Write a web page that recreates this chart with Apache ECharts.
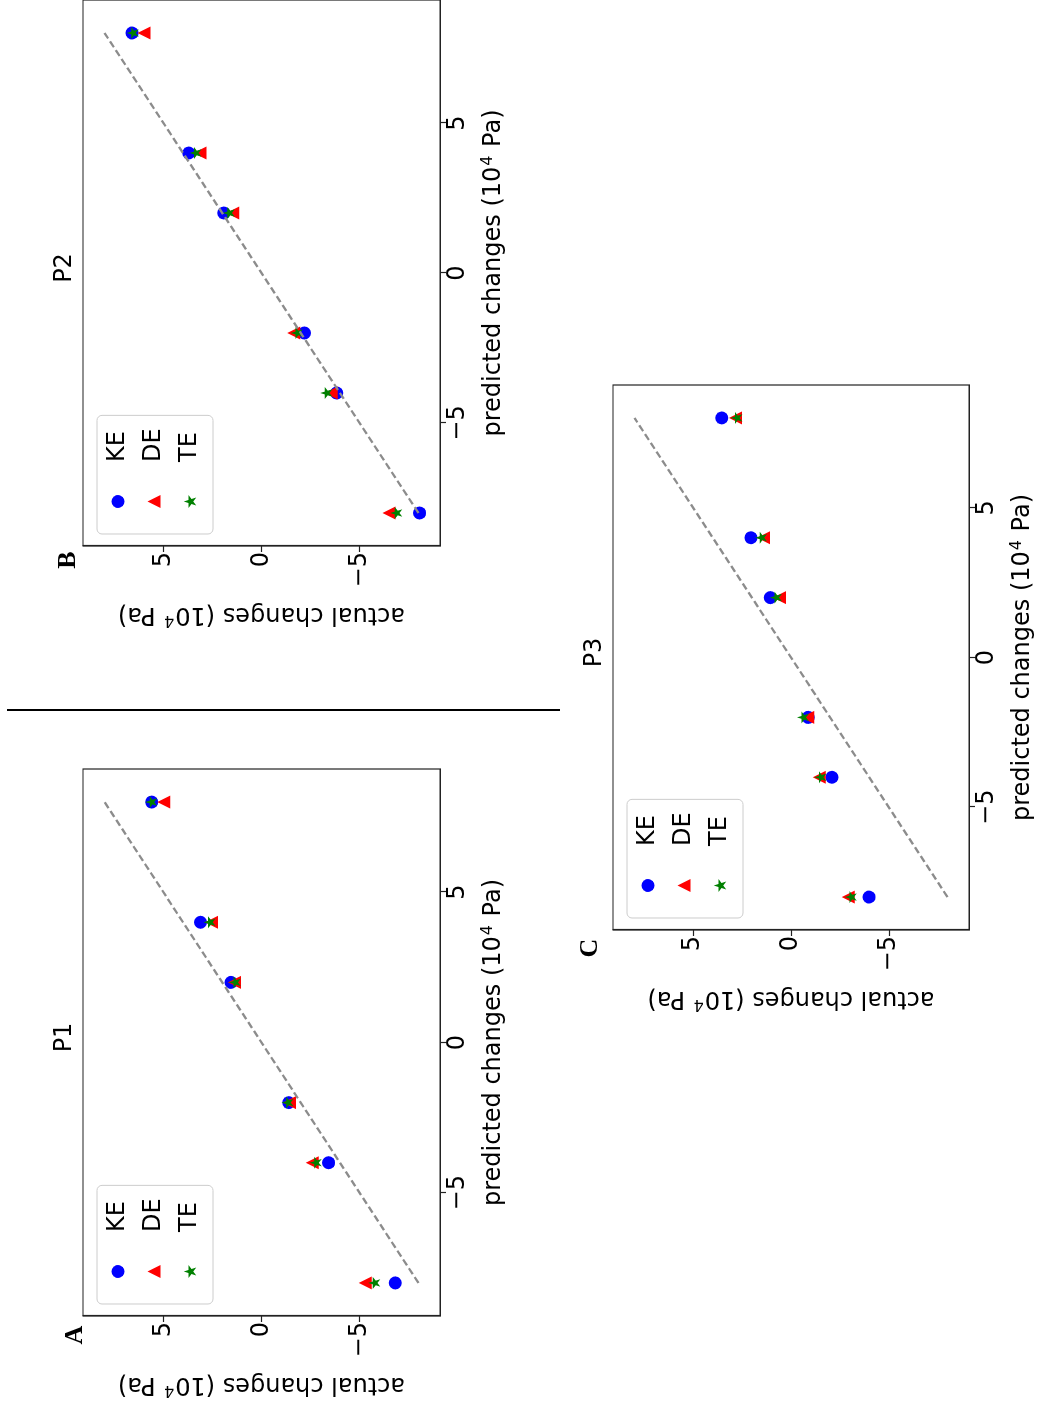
<!DOCTYPE html>
<html>
<head>
<meta charset="utf-8">
<script src="https://cdn.jsdelivr.net/npm/echarts@6/dist/echarts.min.js"></script>
<style>
  html, body { margin: 0; padding: 0; background: #fff; }
  body { width: 1039px; height: 1410px; position: relative; overflow: hidden; }
  .panel { position: absolute; transform-origin: 0 0; transform: rotate(-90deg); }
  #divider { position: absolute; left: 7px; top: 709px; width: 553px; height: 2px; background: #000; }
</style>
</head>
<body>
<div id="divider"></div>
<script>
// ---------------- data ----------------
const predicted = [-8, -4, -2, 2, 4, 8];
const identityLine = [-8, 8];
const tickValues = [-5, 0, 5];
const seriesNames = ['KE', 'DE', 'TE'];

// P1 (panel A) actual changes
const p1KE = [-6.82, -3.42, -1.39, 1.55, 3.11, 5.60];
const p1DE = [-5.29, -2.59, -1.43, 1.38, 2.55, 4.98];
const p1TE = [-5.75, -2.76, -1.33, 1.36, 2.65, 5.63];
// P2 (panel B)
const p2KE = [-8.06, -3.83, -2.19, 1.92, 3.71, 6.60];
const p2DE = [-6.50, -3.55, -1.65, 1.46, 3.13, 5.99];
const p2TE = [-6.87, -3.30, -1.80, 1.67, 3.37, 6.57];
// P3 (panel C)
const p3KE = [-3.99, -2.09, -0.88, 1.06, 2.05, 3.54];
const p3DE = [-2.93, -1.45, -0.85, 0.59, 1.41, 2.84];
const p3TE = [-3.06, -1.50, -0.61, 0.77, 1.53, 2.79];

const xAxisName = 'predicted changes (10{sup|4} Pa)';
const yAxisName = 'actual changes (10{sup|4} Pa)';

// ---------------- styling ----------------
const FONT = 'DejaVu Sans';
const FS = 24;
const STAR = 'path://M50,0 L61.2,34.5 L97.6,34.5 L68.2,55.9 L79.4,90.5 L50,69.1 L20.6,90.5 L31.8,55.9 L2.4,34.5 L38.8,34.5 Z';
const markerStyles = [
  { symbol: 'circle', size: 13, color: '#0000ff' },
  { symbol: 'triangle', size: 13, color: '#ff0000' },
  { symbol: STAR, size: 12, color: '#008000' }
];
const fmt = v => (v < 0 ? '\u2212' + Math.abs(v) : String(v));
const nameStyle = {
  fontFamily: FONT, fontSize: FS, color: '#000', lineHeight: 28,
  rich: { sup: { fontFamily: FONT, fontSize: 16, color: '#000', verticalAlign: 'top', lineHeight: 28, padding: [0, 1, 0, 1] } }
};

function makePanel(cfg) {
  const div = document.createElement('div');
  div.className = 'panel';
  div.style.left = cfg.X0 + 'px';
  div.style.top = (cfg.Y0 + cfg.W) + 'px';
  div.style.width = cfg.W + 'px';
  div.style.height = cfg.H + 'px';
  document.body.appendChild(div);
  const chart = echarts.init(div, null, { renderer: 'canvas', width: cfg.W, height: cfg.H });

  const g = cfg.grid;
  const scatter = cfg.values.map((vals, i) => ({
    name: seriesNames[i],
    type: 'scatter',
    symbol: markerStyles[i].symbol,
    symbolSize: markerStyles[i].size,
    itemStyle: { color: markerStyles[i].color, opacity: 1 },
    z: 3 + i,
    data: predicted.map((p, k) => [p, vals[k]])
  }));

  const option = {
    animation: false,
    title: {
      text: cfg.title,
      left: g.left + g.width / 2,
      top: 8,
      textAlign: 'center',
      textStyle: { fontFamily: FONT, fontSize: FS, fontWeight: 'normal', color: '#000' }
    },
    grid: { left: g.left, top: g.top, width: g.width, height: g.height, show: true, borderColor: '#222', borderWidth: 1.2, containLabel: false },
    xAxis: {
      type: 'value', min: -9.1, max: 9.1,
      axisLine: { show: true, onZero: false, lineStyle: { color: '#222', width: 1.2 } },
      axisTick: { show: true, inside: false, length: 6, customValues: tickValues, lineStyle: { color: '#222', width: 1.2 } },
      axisLabel: { customValues: tickValues, formatter: fmt, margin: 6, fontFamily: FONT, fontSize: FS, color: '#000' },
      splitLine: { show: false },
      name: xAxisName, nameLocation: 'middle', nameGap: 40,
      nameTextStyle: nameStyle
    },
    yAxis: {
      type: 'value', min: -9.1, max: 9.1,
      axisLine: { show: true, onZero: false, lineStyle: { color: '#222', width: 1.2 } },
      axisTick: { show: true, inside: false, length: 6, customValues: tickValues, lineStyle: { color: '#222', width: 1.2 } },
      axisLabel: { customValues: tickValues, formatter: fmt, margin: 6, fontFamily: FONT, fontSize: FS, color: '#000' },
      splitLine: { show: false },
      name: yAxisName, nameLocation: 'middle', nameRotate: 90, nameGap: 54,
      nameTextStyle: nameStyle
    },
    legend: {
      orient: 'vertical',
      left: g.left + 12,
      top: g.top + 14,
      data: seriesNames,
      itemWidth: 13, itemHeight: 13,
      itemGap: 12,
      padding: [9, 13, 11, 26],
      borderColor: '#cccccc', borderWidth: 1, borderRadius: 5,
      backgroundColor: 'rgba(255,255,255,0.8)',
      textStyle: { fontFamily: FONT, fontSize: FS, color: '#000', padding: [0, 0, 0, 28] }
    },
    graphic: [{
      type: 'text',
      x: cfg.letterPos[0], y: cfg.letterPos[1],
      style: { text: cfg.letter, font: 'bold 26px "Liberation Serif"', fill: '#000', textAlign: 'center', textVerticalAlign: 'middle' }
    }],
    series: scatter.concat([{
      type: 'line',
      data: identityLine.map(v => [v, v]),
      symbol: 'none',
      z: 10,
      lineStyle: { color: '#8c8c8c', width: 2.3, type: [7, 3.5] },
      silent: true
    }])
  };
  chart.setOption(option);
}

makePanel({
  X0: 40, Y0: 760, W: 650, H: 480,
  grid: { left: 94, top: 43, width: 547, height: 357 },
  title: 'P1', letter: 'A', letterPos: [75, 35],
  values: [p1KE, p1DE, p1TE]
});
makePanel({
  X0: 40, Y0: -10, W: 655, H: 480,
  grid: { left: 99, top: 43, width: 546, height: 357 },
  title: 'P2', letter: 'B', letterPos: [85, 28],
  values: [p2KE, p2DE, p2TE]
});
makePanel({
  X0: 570, Y0: 375, W: 655, H: 480,
  grid: { left: 100, top: 43, width: 545, height: 356 },
  title: 'P3', letter: 'C', letterPos: [82, 20],
  values: [p3KE, p3DE, p3TE]
});
</script>
</body>
</html>
